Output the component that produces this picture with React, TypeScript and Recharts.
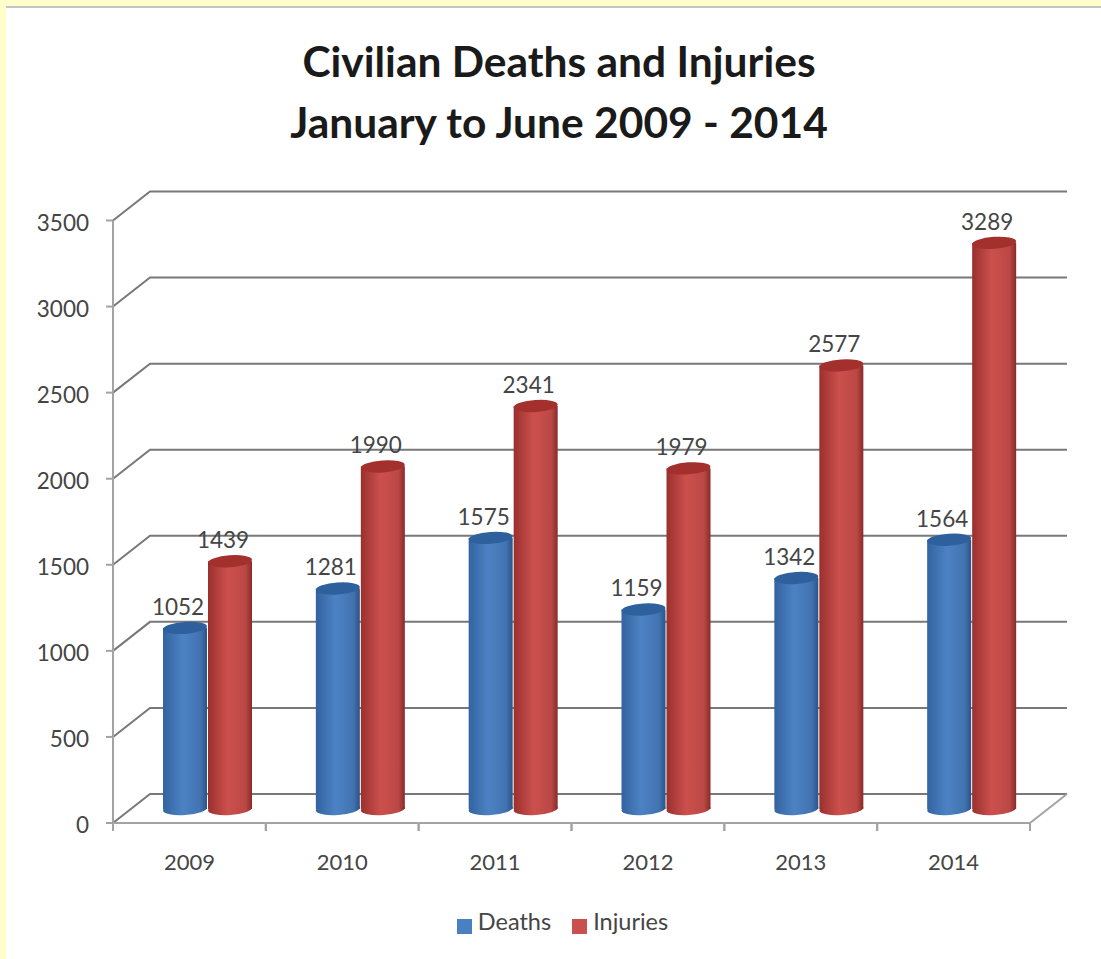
import React from 'react';
import { ComposedChart, Bar, XAxis, YAxis, CartesianGrid, Legend, LabelList } from 'recharts';

const years = ['2009', '2010', '2011', '2012', '2013', '2014'];
const deaths = [1052, 1281, 1575, 1159, 1342, 1564];
const injuries = [1439, 1990, 2341, 1979, 2577, 3289];
const valueTicks = [0, 500, 1000, 1500, 2000, 2500, 3000, 3500];

const rows = years.map((year, i) => ({ year, deaths: deaths[i], injuries: injuries[i] }));

const FONT = 'Lato, sans-serif';
const TEXT = '#454545';
const WALL = '#787878';
const FLOOR = '#a3a3a3';

// the plot area sits mid-depth: walls go back, axes come forward
const BACK = { x: 19, y: -15 };
const FRONT = { x: -18, y: 14 };
const TICK_STEP = 86.14;
const BAND = 152.83;

const WallLine = ({ x1, x2, y1, index }: any) => {
  const frontY = y1 + FRONT.y;
  const backY = y1 + BACK.y;
  const frontX = x1 + FRONT.x;
  const isFloor = index === 0;
  return (
    <g fill="none">
      <polyline
        points={`${frontX},${frontY} ${x1 + BACK.x},${backY} ${x2 + BACK.x},${backY}`}
        stroke={WALL}
        strokeWidth={2}
      />
      <line x1={frontX - 7} x2={frontX} y1={frontY} y2={frontY} stroke={FLOOR} strokeWidth={2} />
      {!isFloor && (
        <line x1={frontX} x2={frontX} y1={frontY} y2={frontY + TICK_STEP} stroke={FLOOR} strokeWidth={2} />
      )}
      {isFloor && (
        <line x1={x2 + FRONT.x} x2={x2 + BACK.x} y1={frontY} y2={backY} stroke={FLOOR} strokeWidth={2} />
      )}
    </g>
  );
};

const ValueTick = ({ x, y, payload }: any) => (
  <text x={x - 34} y={y + FRONT.y + 10} textAnchor="end" fontFamily={FONT} fontSize={22.5} fill={TEXT}>
    {payload.value}
  </text>
);

// year label plus the stretch of floor edge under it
const YearTick = ({ x, payload }: any) => {
  const centre = x + FRONT.x;
  const left = centre - BAND / 2;
  const right = centre + BAND / 2;
  return (
    <g>
      <line x1={left} x2={right} y1={823} y2={823} stroke={FLOOR} strokeWidth={2} />
      <line x1={left} x2={left} y1={823} y2={831} stroke={FLOOR} strokeWidth={2} />
      <line x1={right} x2={right} y1={823} y2={831} stroke={FLOOR} strokeWidth={2} />
      <text x={centre} y={870} textAnchor="middle" fontFamily={FONT} fontSize={22} fill={TEXT}>
        {payload.value}
      </text>
    </g>
  );
};

const Cylinder = ({ x, y, width, height, gradient, cap }: any) => {
  const rx = width / 2;
  const cx = x + rx;
  const bottom = y + height;
  return (
    <g>
      <ellipse cx={cx} cy={bottom} rx={rx} ry={6} fill={`url(#${gradient})`} transform={`rotate(-4 ${cx} ${bottom})`} />
      <rect x={x} y={y} width={width} height={height} fill={`url(#${gradient})`} />
      <ellipse cx={cx} cy={y} rx={rx} ry={6} fill={cap} transform={`rotate(-4 ${cx} ${y})`} />
    </g>
  );
};

const ValueLabel = ({ x, y, width, value }: any) => (
  <text x={x + width / 2 - 7} y={y - 13} textAnchor="middle" fontFamily={FONT} fontSize={22.5} fill={TEXT}>
    {value}
  </text>
);

const titleLine: React.CSSProperties = {
  position: 'absolute',
  left: 0,
  width: 1118,
  textAlign: 'center',
  fontFamily: FONT,
  fontWeight: 700,
  fontSize: 42.5,
  color: '#1a1a1a',
  lineHeight: '44px',
};

export default function App() {
  return (
    <div
      style={{
        position: 'absolute',
        top: 0,
        left: 0,
        width: 1101,
        height: 959,
        background: '#fff',
        overflow: 'hidden',
      }}
    >
      <div style={{ position: 'absolute', inset: 0, borderTop: '6px solid #ffffcc', borderLeft: '6px solid #ffffcc' }} />
      <div style={{ position: 'absolute', left: 6, top: 6, right: 0, height: 2, background: '#c4c4c4' }} />
      <div style={{ ...titleLine, top: 39 }}>Civilian Deaths and Injuries</div>
      <div style={{ ...titleLine, top: 100 }}>January to June 2009 - 2014</div>
      <ComposedChart
        width={1101}
        height={959}
        data={rows}
        barSize={44}
        barGap={1}
        margin={{ top: 206.5, right: 53, bottom: 50, left: 0 }}
        style={{ position: 'absolute', top: 0, left: 0 }}
      >
        <defs>
          <linearGradient id="deathsBody" x1="0" x2="1" y1="0" y2="0">
            <stop offset="0" stopColor="#33639f" />
            <stop offset="0.45" stopColor="#4c82c4" />
            <stop offset="0.85" stopColor="#4273b0" />
            <stop offset="1" stopColor="#2a5488" />
          </linearGradient>
          <linearGradient id="injuriesBody" x1="0" x2="1" y1="0" y2="0">
            <stop offset="0" stopColor="#9a302e" />
            <stop offset="0.45" stopColor="#cc504d" />
            <stop offset="0.85" stopColor="#bb4845" />
            <stop offset="1" stopColor="#882b29" />
          </linearGradient>
        </defs>
        <CartesianGrid vertical={false} horizontal={(props: any) => <WallLine key={props.key} {...props} />} />
        <XAxis dataKey="year" height={100} axisLine={false} tickLine={false} tick={<YearTick />} interval={0} />
        <YAxis
          width={131}
          domain={[0, 3500]}
          ticks={valueTicks}
          axisLine={false}
          tickLine={false}
          tick={<ValueTick />}
          interval={0}
        />
        <Legend
          layout="horizontal"
          verticalAlign="middle"
          align="center"
          iconType="square"
          iconSize={15}
          formatter={(value: string) => (
            <span style={{ color: TEXT, fontFamily: FONT, fontSize: 23.5, marginLeft: 2, marginRight: 11 }}>{value}</span>
          )}
          wrapperStyle={{ position: 'absolute', left: 453, top: 907, width: 240, height: 32, bottom: 'auto' }}
        />
        <Bar
          dataKey="deaths"
          name="Deaths"
          fill="#4a80c2"
          isAnimationActive={false}
          shape={(props: any) => <Cylinder {...props} gradient="deathsBody" cap="#2f609e" />}
        >
          <LabelList dataKey="deaths" content={<ValueLabel />} />
        </Bar>
        <Bar
          dataKey="injuries"
          name="Injuries"
          fill="#c8504d"
          isAnimationActive={false}
          shape={(props: any) => <Cylinder {...props} gradient="injuriesBody" cap="#a3302d" />}
        >
          <LabelList dataKey="injuries" content={<ValueLabel />} />
        </Bar>
      </ComposedChart>
    </div>
  );
}
